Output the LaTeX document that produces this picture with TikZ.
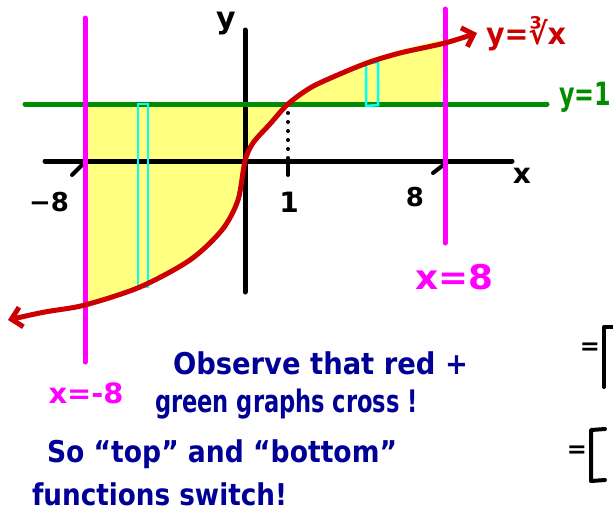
\documentclass[tikz,border=0pt]{standalone}
\usepackage{fontspec}
\setmainfont{DejaVu Sans}
\usetikzlibrary{arrows.meta}
\definecolor{cred}{RGB}{204,0,0}
\definecolor{cgreen}{RGB}{0,140,0}
\definecolor{cmag}{RGB}{255,0,255}
\definecolor{ccyan}{RGB}{0,255,255}
\definecolor{cyel}{RGB}{255,255,128}
\definecolor{cblue}{RGB}{0,0,150}
\newcommand{\fs}[1]{\fontsize{#1}{#1}\selectfont}
\newcommand{\fitw}[2]{\resizebox{#1}{\height}{#2}}
\begin{document}
\begin{tikzpicture}[x=1pt,y=-1pt,
  thick line/.style={line width=5pt,line cap=round},
  txt/.style={inner sep=0pt,outer sep=0pt},
  bluetxt/.style={txt,text=cblue,anchor=base west,font=\fs{30}}]
\useasboundingbox (0,0) rectangle (613,514);
\fill[white] (0,0) rectangle (613,514);
% yellow regions
\fill[cyel] (83,104) -- (83,306) -- plot[smooth] coordinates {(85,305) (140,287) (190,260) (222,230) (238,200) (245,161) (253,143) (270,124) (288,104)} -- cycle;
\fill[cyel] (288,106) -- plot[smooth] coordinates {(288,104) (310,87) (333,75) (367,60) (400,50) (440,40)} -- (446,42) -- (440,104) -- cycle;
% axes
\draw[thick line] (45,161) -- (512,161);
\draw[thick line] (245,30) -- (245,292);
% ticks
\draw[line width=4pt,line cap=round] (72,175) -- (84,163);
\draw[line width=4pt,line cap=round] (433,173) -- (446,163);
\draw[line width=4pt,line cap=round] (288,160) -- (288,175);
\draw[line width=4pt,line cap=round,dash pattern=on 0pt off 9pt] (288,113) -- (288,158);
% green line
\draw[thick line,cgreen] (25,104) -- (547,104);
% cyan strips
\draw[ccyan,line width=2.5pt] (138,104) rectangle (148,287);
\draw[ccyan,line width=2.5pt] (366,64) -- (378,62) -- (378,105) -- (366,106) -- cycle;
% magenta lines
\draw[thick line,cmag] (85,18) -- (85,362);
\draw[thick line,cmag] (445,9) -- (445,243);
% red curve
\draw[thick line,cred,{Straight Barb[length=10pt,width=20pt]}-{Straight Barb[length=10pt,width=20pt]}] plot[smooth] coordinates {(8,320) (45,312) (85,305) (140,287) (190,260) (222,230) (238,200) (245,161) (253,143) (270,124) (288,104) (310,88) (333,77) (367,63) (400,53) (445,43) (477,33)};
% axis labels
\node[txt,font=\fs{30}\bfseries] (ly) at (226,24) {y};
\node[txt,font=\fs{28}\bfseries] (lx) at (522,176) {x};
\node[txt,font=\fs{26}\bfseries] (lm8) at (49,202) {−8};
\node[txt,font=\fs{28}\bfseries] (l1) at (289,202) {1};
\node[txt,font=\fs{26}\bfseries] (l8) at (415,197) {8};
% function labels
\node[txt,font=\fs{30}\bfseries,text=cred,anchor=base west] (fr) at (486,44) {\fitw{80pt}{y=∛x}};
\node[txt,font=\fs{32}\bfseries,text=cgreen,anchor=base west] (fg) at (559,105) {\fitw{52pt}{y=1}};
\node[txt,font=\fs{34}\bfseries,text=cmag] (fx8) at (454,277) {\fitw{78pt}{x=8}};
\node[txt,font=\fs{28}\bfseries,text=cmag] (fxm8) at (86,393) {\fitw{75pt}{x=-8}};
% blue text
\node[bluetxt,font=\fs{30}\bfseries] (t1) at (173,374) {\fitw{295pt}{Observe that red +}};
\node[bluetxt,font=\fs{31}\bfseries] (t2) at (155,412) {\fitw{263pt}{green graphs cross !}};
\node[bluetxt,font=\fs{30}\bfseries] (t3) at (47,462) {\fitw{350pt}{So “top” and “bottom”}};
\node[bluetxt,font=\fs{30}\bfseries] (t4) at (32,505) {\fitw{255pt}{functions switch!}};
% right edge fragments
\node[txt,font=\fs{24}\bfseries] (eq1) at (590,349) {=};
\draw[line width=4pt,line cap=round,line join=round] (613,327) -- (604,327) -- (604,387);
\node[txt,font=\fs{24}\bfseries] (eq2) at (577,452) {=};
\draw[line width=4pt,line cap=round,line join=round] (605,429) -- (591,430) -- (591,481) -- (605,480);
\end{tikzpicture}
\end{document}
